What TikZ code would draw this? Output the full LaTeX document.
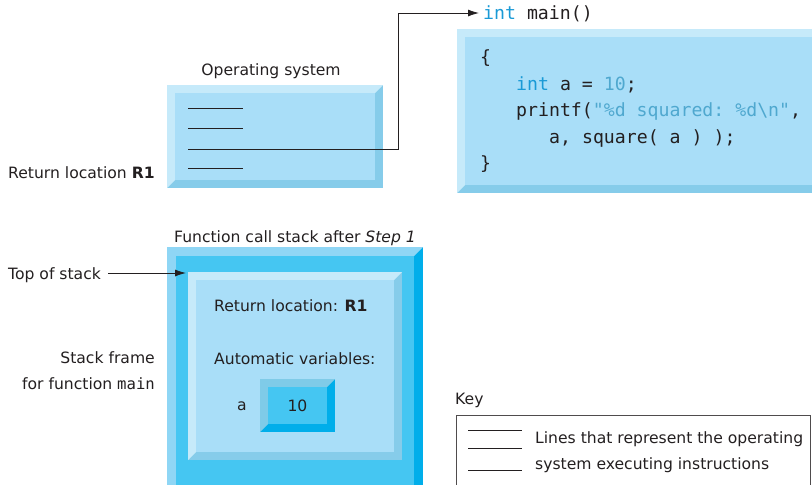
\documentclass[tikz,border=0pt]{standalone}
\usepackage{fontspec}
\setmainfont{DejaVu Sans}
\setmonofont{DejaVu Sans Mono}
\usetikzlibrary{arrows.meta}
\definecolor{faceL}{HTML}{A9DEF8}
\definecolor{bevL}{HTML}{C6EAFA}
\definecolor{bevD}{HTML}{86CCEA}
\definecolor{faceC}{HTML}{45C6F2}
\definecolor{bevCL}{HTML}{8FD6F5}
\definecolor{bevCD}{HTML}{00AEEA}
\definecolor{bevSL}{HTML}{7FCBE8}
\definecolor{kw}{HTML}{1A9AD6}
\definecolor{lit}{HTML}{4FA8CF}
\definecolor{ink}{HTML}{231F20}
\newcommand\bevelbox[8]{%
  \fill[#8] (#1,#2) rectangle (#3,#4);
  \fill[#6] (#1,#2) -- (#3,#2) -- ({#3-#5},{#2+#5}) -- ({#1+#5},{#2+#5}) -- ({#1+#5},{#4-#5}) -- (#1,#4) -- cycle;
  \fill[#7] ({#1+#5},{#2+#5}) rectangle ({#3-#5},{#4-#5});}
\tikzset{
  lbl/.style={font=\fontsize{15.6}{18}\selectfont, text=ink, inner sep=0pt},
  code/.style={font=\fontsize{18.2}{20}\selectfont\ttfamily, text=ink, inner sep=0pt, anchor=base west},
  osline/.style={draw=ink, line width=0.8pt},
  conn/.style={draw=ink, line width=0.8pt},
  tip/.style={-{Latex[length=11pt,width=7pt]}}
}
\begin{document}
\begin{tikzpicture}[x=1pt,y=-1pt]
\useasboundingbox (0,0) rectangle (812,485);
\clip (0,0) rectangle (812,485);
% Operating system box
\bevelbox{167}{85}{383}{188}{8}{bevL}{faceL}{bevD}
\node[lbl, anchor=base] (ostitle) at (271,75) {Operating system};
\foreach \yy/\nm in {108/l1,128/l2,168/l4}{
  \coordinate (\nm a) at (188,\yy); \coordinate (\nm b) at (243,\yy);
  \draw[osline] (\nm a) -- (\nm b);}
\coordinate (l3a) at (188,149);
\coordinate (bend1) at (398,149);
\coordinate (bend2) at (398,13);
% code box
\bevelbox{457}{29}{830}{193}{8}{bevL}{faceL}{bevD}
\node[code] (intmain) at (483,19) {\textcolor{kw}{int} main()};
\draw[conn, tip] (l3a) -- (bend1) -- (bend2) -- ([xshift=-4pt]intmain.base west |- bend2);
\node[code] (c1) at (480,63) {\{};
\node[code] (c2) at (516,90) {\textcolor{kw}{int} a = \textcolor{lit}{10};};
\node[code] (c3) at (516,116) {printf(\textcolor{lit}{"\%d squared: \%d\textbackslash n"},};
\node[code] (c4) at (549,143) {a, square( a ) );};
\node[code] (c5) at (480,169) {\}};
% return location
\node[lbl, anchor=base west] (retloc) at (8,178) {Return location \textbf{R1}};
% stack
\node[lbl, anchor=base] (stacktitle) at (295,242) {Function call stack after \textit{Step 1}};
\bevelbox{167}{247}{423}{500}{9}{bevCL}{faceC}{bevCD}
\bevelbox{188}{272}{402}{460}{8}{bevL}{faceL}{bevD}
\coordinate (frametop) at (186,273);
\node[lbl, anchor=base west] (tos) at (8,279) {Top of stack};
\draw[conn, tip] (tos.east |- frametop) ++(7,0) -- (frametop);
\node[lbl, anchor=base west] (rl2) at (214,311) {Return location: \textbf{R1}};
\node[lbl, anchor=base west] (av) at (214,364) {Automatic variables:};
\node[lbl, anchor=base] (va) at (242,410) {a};
\bevelbox{260}{379}{335}{432}{8}{bevSL}{faceC}{bevCD}
\node[lbl, anchor=base] (v10) at (297.5,411) {10};
\node[lbl, anchor=base east] (sf1) at (155,363) {Stack frame};
\node[lbl, anchor=base east] (sf2) at (155,389) {for function \texttt{main}};
% key
\node[lbl, anchor=base west] (key) at (455,404) {Key};
\draw[draw=ink!80, line width=0.8pt] (456,415) rectangle (810,500);
\foreach \yy in {430,448,470}{\draw[osline] (468,\yy) -- (522,\yy);}
\node[lbl, anchor=base west] (k1) at (535,443) {Lines that represent the operating};
\node[lbl, anchor=base west] (k2) at (535,469) {system executing instructions};
\end{tikzpicture}
\end{document}
